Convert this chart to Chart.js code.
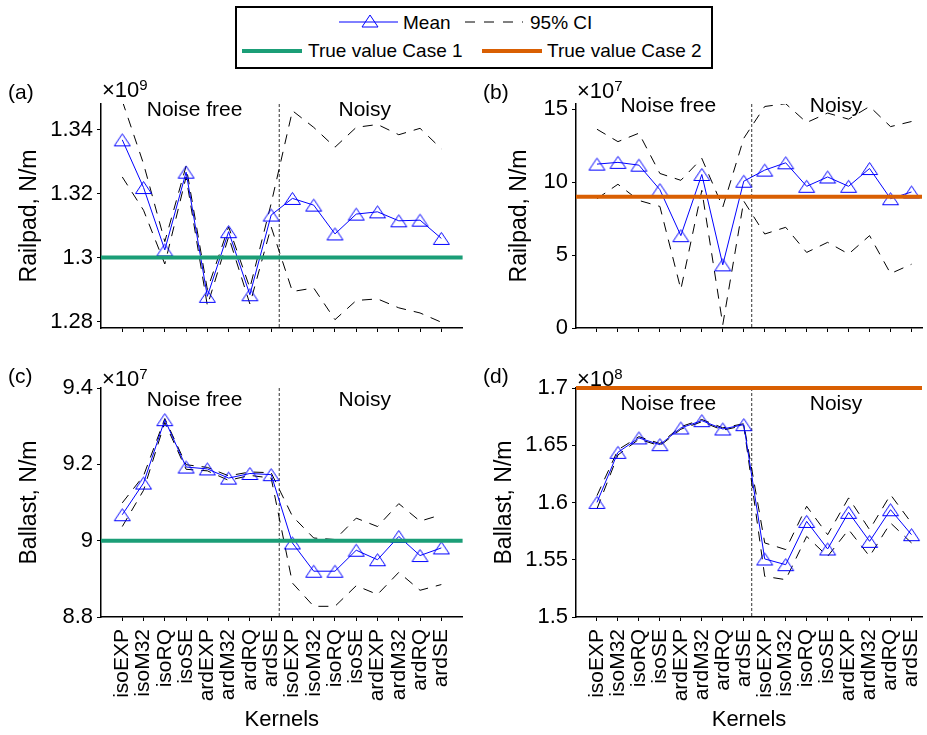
<!DOCTYPE html>
<html>
<head>
<meta charset="utf-8">
<title>Railpad and ballast estimates per kernel</title>
<script src="https://cdn.jsdelivr.net/npm/chart.js@4.4.1/dist/chart.umd.min.js"></script>
<style>
  html, body { margin: 0; padding: 0; background: #ffffff; overflow: hidden; }
  #figure { position: relative; width: 927px; height: 735px; font-family: "Liberation Sans", Arial, sans-serif; color: #000; }
  #figure canvas { position: absolute; }
  .txt { position: absolute; line-height: 1; white-space: nowrap; }
  .tag { font-size: 21px; }
  .mult { font-size: 22px; }
  .mult span { font-size: 15px; vertical-align: 7px; }
  .leg { font-size: 19px; }
  #legendBox { position: absolute; left: 235px; top: 6px; width: 478px; height: 63px; border: 2px solid #000; box-sizing: border-box; }
</style>
</head>
<body>
<div id="figure">
  <div id="legendBox"></div>
  <svg width="927" height="75" style="position:absolute;left:0;top:0">
    <line x1="339" y1="22" x2="398" y2="22" stroke="#0000ff" stroke-width="1"/>
    <polygon points="370,15 378,27 362,27" fill="none" stroke="#0000ff" stroke-width="1"/>
    <line x1="465" y1="22" x2="523" y2="22" stroke="#000" stroke-width="1" stroke-dasharray="10 9"/>
    <line x1="242" y1="51" x2="302" y2="51" stroke="#1b9e77" stroke-width="4"/>
    <line x1="482" y1="51" x2="542" y2="51" stroke="#d95f02" stroke-width="4"/>
  </svg>
  <div class="txt leg" style="left:403px;top:13px">Mean</div>
  <div class="txt leg" style="left:530px;top:13px">95% CI</div>
  <div class="txt leg" style="left:308px;top:41px">True value Case 1</div>
  <div class="txt leg" style="left:547px;top:41px">True value Case 2</div>

  <canvas id="chartA" width="470" height="262" style="left:0px;top:78px"></canvas>
  <canvas id="chartB" width="457" height="262" style="left:470px;top:78px"></canvas>
  <canvas id="chartC" width="470" height="375" style="left:0px;top:360px"></canvas>
  <canvas id="chartD" width="457" height="375" style="left:470px;top:360px"></canvas>

  <div class="txt tag" style="left:8px;top:81px">(a)</div>
  <div class="txt tag" style="left:483px;top:81px">(b)</div>
  <div class="txt tag" style="left:8px;top:365px">(c)</div>
  <div class="txt tag" style="left:483px;top:365px">(d)</div>

  <div class="txt mult" style="left:102px;top:77px">&times;10<span>9</span></div>
  <div class="txt mult" style="left:577px;top:78px">&times;10<span>7</span></div>
  <div class="txt mult" style="left:102px;top:366px">&times;10<span>7</span></div>
  <div class="txt mult" style="left:577px;top:366px">&times;10<span>8</span></div>
</div>

<script>
// Kernel names along the x axis: noise free block, then noisy block
const kernels = ['isoEXP', 'isoM32', 'isoRQ', 'isoSE', 'ardEXP', 'ardM32', 'ardRQ', 'ardSE',
                 'isoEXP', 'isoM32', 'isoRQ', 'isoSE', 'ardEXP', 'ardM32', 'ardRQ', 'ardSE'];

// (a) Railpad, case 1 (x 1e9 N/m)
const railpad1Mean  = [1.3368, 1.3219, 1.3024, 1.3267, 1.2879, 1.3081, 1.2884, 1.3133,
                       1.3185, 1.3164, 1.3074, 1.3136, 1.3143, 1.3115, 1.3117, 1.3060];
const railpad1Upper = [1.3490, 1.3293, 1.3050, 1.3286, 1.2900, 1.3096, 1.2905, 1.3169,
                       1.3459, 1.3407, 1.3345, 1.3407, 1.3416, 1.3384, 1.3404, 1.3340];
const railpad1Lower = [1.3252, 1.3148, 1.2980, 1.3252, 1.2850, 1.3065, 1.2855, 1.3096,
                       1.2894, 1.2905, 1.2806, 1.2866, 1.2871, 1.2843, 1.2827, 1.2798];
const railpad1Ticks = [1.28, 1.3, 1.32, 1.34];
const railpad1True = 1.3;

// (b) Railpad, case 2 (x 1e7 N/m)
const railpad2Mean  = [11.23, 11.35, 11.16, 9.48, 6.33, 10.52, 4.33, 10.06,
                       10.82, 11.32, 9.71, 10.35, 9.71, 10.93, 8.86, 9.32];
const railpad2Upper = [13.62, 12.77, 13.35, 10.59, 10.12, 11.62, 8.28, 13.0,
                       15.18, 15.37, 14.08, 14.73, 14.31, 15.18, 13.80, 14.15];
const railpad2Lower = [8.86, 9.85, 8.74, 8.33, 2.65, 9.43, 0.23, 8.70,
                       6.44, 6.90, 5.18, 5.87, 5.07, 6.33, 3.73, 4.37];
const railpad2Ticks = [0, 5, 10, 15];
const railpad2True = 9;

// (c) Ballast, case 1 (x 1e7 N/m)
const ballast1Mean  = [9.068, 9.151, 9.317, 9.193, 9.188, 9.164, 9.176, 9.173,
                       8.994, 8.920, 8.920, 8.975, 8.950, 9.011, 8.961, 8.981];
const ballast1Upper = [9.099, 9.170, 9.320, 9.199, 9.192, 9.170, 9.180, 9.178,
                       9.064, 9.007, 9.003, 9.059, 9.037, 9.097, 9.051, 9.068];
const ballast1Lower = [9.037, 9.132, 9.310, 9.187, 9.183, 9.158, 9.171, 9.164,
                       8.889, 8.828, 8.828, 8.882, 8.859, 8.917, 8.870, 8.885];
const ballast1Ticks = [8.8, 9, 9.2, 9.4];
const ballast1True = 9.0;

// (d) Ballast, case 2 (x 1e8 N/m)
const ballast2Mean  = [1.6001, 1.6438, 1.6564, 1.6505, 1.6651, 1.6715, 1.6642, 1.6680,
                       1.5507, 1.5457, 1.5835, 1.5594, 1.5914, 1.5661, 1.5937, 1.5719];
const ballast2Upper = [1.6060, 1.6460, 1.6575, 1.6515, 1.6662, 1.6725, 1.6652, 1.6688,
                       1.5647, 1.5589, 1.5967, 1.5719, 1.6040, 1.5763, 1.6068, 1.5821];
const ballast2Lower = [1.5945, 1.6415, 1.6553, 1.6495, 1.6640, 1.6705, 1.6632, 1.6672,
                       1.5355, 1.5326, 1.5704, 1.5530, 1.5763, 1.5530, 1.5821, 1.5647];
const ballast2Ticks = [1.5, 1.55, 1.6, 1.65, 1.7];
const ballast2True = 1.7;

const case1Color = '#1b9e77';
const case2Color = '#d95f02';
const fontFamily = '"Liberation Sans", Arial, sans-serif';

Chart.defaults.font.family = fontFamily;
Chart.defaults.color = '#000';

// Open blue triangle used as the marker of the mean line
function makeTriangle() {
    const c = document.createElement('canvas');
    c.width = 19;
    c.height = 15;
    const g = c.getContext('2d');
    g.strokeStyle = '#0000ff';
    g.lineWidth = 1;
    g.beginPath();
    g.moveTo(9.5, 1.5);
    g.lineTo(17.5, 13.5);
    g.lineTo(1.5, 13.5);
    g.closePath();
    g.stroke();
    return c;
}
const triangle = makeTriangle();

// Dashed split between noise free and noisy kernels, plus the two block labels
const blockNotes = {
    id: 'blockNotes',
    beforeDatasetsDraw(chart, args, opts) {
        const { ctx, chartArea, scales: { x, y } } = chart;
        const sx = x.getPixelForValue(opts.splitAt);
        ctx.save();
        ctx.strokeStyle = '#333';
        ctx.lineWidth = 1;
        ctx.setLineDash([3, 2]);
        ctx.beginPath();
        ctx.moveTo(sx, chartArea.top);
        ctx.lineTo(sx, chartArea.bottom);
        ctx.stroke();
        ctx.setLineDash([]);
        ctx.fillStyle = '#000';
        ctx.font = '21px ' + fontFamily;
        ctx.textAlign = 'center';
        ctx.textBaseline = 'middle';
        const ny = y.getPixelForValue(opts.noteY);
        ctx.fillText('Noise free', x.getPixelForValue(4.4), ny);
        ctx.fillText('Noisy', x.getPixelForValue(12.4), ny);
        ctx.restore();
    }
};

function makePanel(canvasId, p) {
    const points = arr => arr.map((v, i) => ({ x: i + 1, y: v }));

    const config = {
        type: 'line',
        data: {
            datasets: [
                {
                    label: 'True value',
                    data: [{ x: 0, y: p.trueValue }, { x: p.xMax, y: p.trueValue }],
                    borderColor: p.trueColor,
                    borderWidth: 4,
                    pointRadius: 0,
                    clip: false,
                    order: 0
                },
                {
                    label: 'Mean',
                    data: points(p.mean),
                    borderColor: '#0000ff',
                    borderWidth: 1,
                    pointStyle: triangle,
                    pointRadius: 3,
                    order: 1
                },
                {
                    label: '95% CI',
                    data: points(p.upper),
                    borderColor: '#000',
                    borderWidth: 1,
                    borderDash: [10, 8],
                    pointRadius: 0,
                    order: 2
                },
                {
                    label: '95% CI lower',
                    data: points(p.lower),
                    borderColor: '#000',
                    borderWidth: 1,
                    borderDash: [10, 8],
                    pointRadius: 0,
                    order: 2
                }
            ]
        },
        options: {
            responsive: false,
            animation: false,
            events: [],
            layout: { padding: p.pad },
            plugins: {
                legend: { display: false },
                tooltip: { enabled: false },
                blockNotes: { splitAt: 8.38, noteY: p.noteY }
            },
            scales: {
                x: {
                    type: 'linear',
                    min: 0,
                    max: p.xMax,
                    afterBuildTicks: scale => {
                        scale.ticks = kernels.map((k, i) => ({ value: i + 1 }));
                    },
                    afterFit: scale => {
                        scale.height = p.xHeight;
                        scale.paddingLeft = 0;
                        scale.paddingRight = 0;
                    },
                    border: { display: true, color: '#000', width: 1.5 },
                    grid: { display: true, drawOnChartArea: false, drawTicks: true, tickLength: 4, tickColor: '#000', tickWidth: 1 },
                    ticks: {
                        display: p.showKernels,
                        autoSkip: false,
                        minRotation: 90,
                        maxRotation: 90,
                        padding: 8,
                        font: { size: 21 },
                        callback: v => kernels[v - 1] || ''
                    },
                    title: {
                        display: p.showKernels,
                        text: 'Kernels',
                        font: { size: 22, lineHeight: 1 },
                        padding: { top: 0, bottom: 4 }
                    }
                },
                y: {
                    min: p.yMin,
                    max: p.yMax,
                    afterBuildTicks: scale => {
                        scale.ticks = p.ticks.map(v => ({ value: v }));
                    },
                    afterFit: scale => {
                        scale.width = p.yWidth;
                        scale.paddingTop = 0;
                        scale.paddingBottom = 0;
                    },
                    border: { display: true, color: '#000', width: 1.5 },
                    grid: { display: true, drawOnChartArea: false, drawTicks: true, tickLength: 4, tickColor: '#000', tickWidth: 1 },
                    ticks: {
                        padding: 4,
                        font: { size: 22 },
                        callback: v => String(v)
                    },
                    title: {
                        display: true,
                        text: p.title,
                        font: { size: 23, lineHeight: 1 },
                        padding: 0
                    }
                }
            }
        },
        plugins: [blockNotes]
    };

    return new Chart(document.getElementById(canvasId), config);
}

makePanel('chartA', {
    mean: railpad1Mean, upper: railpad1Upper, lower: railpad1Lower, ticks: railpad1Ticks,
    trueValue: railpad1True, trueColor: case1Color,
    yMin: 1.278, yMax: 1.348, xMax: 17, title: 'Railpad, N/m', showKernels: false,
    pad: { left: 18, top: 26, right: 7.4, bottom: 0 }, yWidth: 83, xHeight: 12, noteY: 1.3462
});

makePanel('chartB', {
    mean: railpad2Mean, upper: railpad2Upper, lower: railpad2Lower, ticks: railpad2Ticks,
    trueValue: railpad2True, trueColor: case2Color,
    yMin: 0, yMax: 15.35, xMax: 16.5, title: 'Railpad, N/m', showKernels: false,
    pad: { left: 38, top: 26, right: 0, bottom: 0 }, yWidth: 68, xHeight: 12, noteY: 15.2
});

makePanel('chartC', {
    mean: ballast1Mean, upper: ballast1Upper, lower: ballast1Lower, ticks: ballast1Ticks,
    trueValue: ballast1True, trueColor: case1Color,
    yMin: 8.8, yMax: 9.4, xMax: 17, title: 'Ballast, N/m', showKernels: true,
    pad: { left: 18, top: 28, right: 7.4, bottom: 0 }, yWidth: 83, xHeight: 118, noteY: 9.368
});

makePanel('chartD', {
    mean: ballast2Mean, upper: ballast2Upper, lower: ballast2Lower, ticks: ballast2Ticks,
    trueValue: ballast2True, trueColor: case2Color,
    yMin: 1.5, yMax: 1.7, xMax: 16.5, title: 'Ballast, N/m', showKernels: true,
    pad: { left: 23, top: 28, right: 0, bottom: 0 }, yWidth: 83, xHeight: 118, noteY: 1.6859
});
</script>
</body>
</html>
